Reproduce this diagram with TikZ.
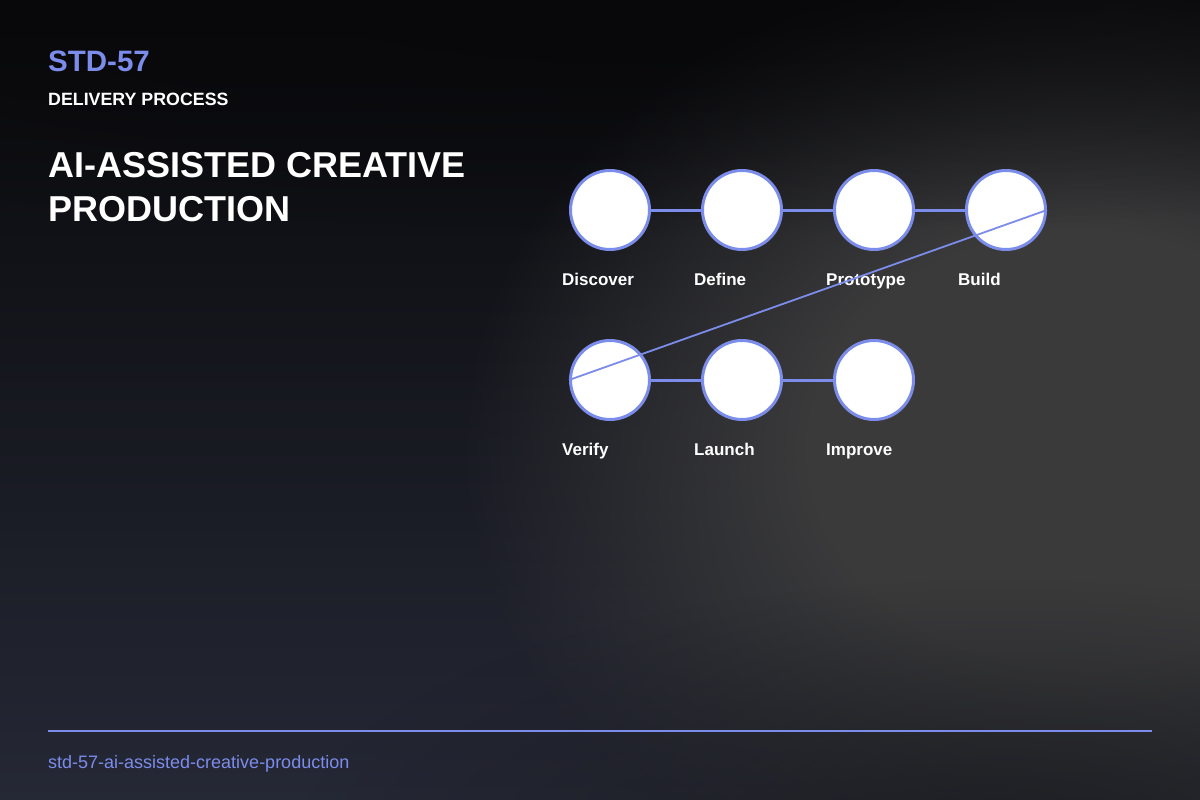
\documentclass[tikz,border=0pt]{standalone}
\usepackage{fontspec}
\setmainfont{Liberation Sans}
\usetikzlibrary{fadings}
\definecolor{accent}{HTML}{7C8CEB}
\definecolor{bgtop}{HTML}{08080A}
\definecolor{bgmid}{HTML}{15161C}
\definecolor{bgbot}{HTML}{252835}
\definecolor{blobgrey}{HTML}{3A3A3B}
\definecolor{cornerdark}{HTML}{18191D}
\tikzfading[name=blobfade, inner color=transparent!0, outer color=transparent!100]
\pgfdeclareradialshading{plateaushade}{\pgfpoint{0bp}{0bp}}{color(0bp)=(pgftransparent!0); color(11bp)=(pgftransparent!0); color(25bp)=(pgftransparent!100); color(50bp)=(pgftransparent!100)}
\pgfdeclarefading{plateaufade}{\pgfuseshading{plateaushade}}
\tikzset{
  stepnode/.style={circle, draw=accent, line width=3pt, fill=white, inner sep=0pt, minimum size=79pt},
  steplabel/.style={anchor=base west, inner sep=0pt, text=white, font=\fontsize{17}{20}\selectfont\bfseries},
  link/.style={draw=accent, line width=3pt},
  jump/.style={draw=accent, line width=1.8pt},
}
\begin{document}
\begin{tikzpicture}[x=1pt,y=-1pt]
\useasboundingbox (0,0) rectangle (1200,800);
% background
\shade[top color=bgtop, middle color=bgmid, bottom color=bgbot] (0,0) rectangle (1200,800);
\begin{scope}
\clip (0,0) rectangle (1200,800);
\fill[blobgrey, path fading=plateaufade] (1080,450) ellipse (620 and 500);
\fill[cornerdark, path fading=blobfade, fill opacity=0.8] (1000,840) ellipse (700 and 260);
\fill[bgtop, path fading=blobfade, fill opacity=0.7] (700,0) ellipse (1400 and 230);
\end{scope}
% header
\node[anchor=base west, inner sep=0pt, text=accent, font=\fontsize{29.5}{34}\selectfont\bfseries] (code) at (48,72) {STD-57};
\node[anchor=base west, inner sep=0pt, text=white, font=\fontsize{17.8}{20}\selectfont\bfseries] (kind) at (48,105) {DELIVERY PROCESS};
\node[anchor=base west, inner sep=0pt, text=white, font=\fontsize{36}{44}\selectfont\bfseries] (title1) at (48,177) {AI-ASSISTED CREATIVE};
\node[anchor=base west, inner sep=0pt, text=white, font=\fontsize{36}{44}\selectfont\bfseries] (title2) at (48,221) {PRODUCTION};
% steps
\node[stepnode] (s1) at (610,210) {};
\node[stepnode] (s2) at (742,210) {};
\node[stepnode] (s3) at (874,210) {};
\node[stepnode] (s4) at (1006,210) {};
\node[stepnode] (s5) at (610,380) {};
\node[stepnode] (s6) at (742,380) {};
\node[stepnode] (s7) at (874,380) {};
\draw[link] (s1) -- (s2);
\draw[link] (s2) -- (s3);
\draw[link] (s3) -- (s4);
\draw[link] (s5) -- (s6);
\draw[link] (s6) -- (s7);
\node[steplabel] (l1) at (562,285) {Discover};
\node[steplabel] (l2) at (694,285) {Define};
\node[steplabel] (l3) at (826,285) {Prototype};
\node[steplabel] (l4) at (958,285) {Build};
\node[steplabel] (l5) at (562,455) {Verify};
\node[steplabel] (l6) at (694,455) {Launch};
\node[steplabel] (l7) at (826,455) {Improve};
\draw[jump] (s4.east) -- (s5.west);
% footer
\coordinate (fl) at (48,731);
\coordinate (fr) at (1152,731);
\draw[accent, line width=2pt] (fl) -- (fr);
\node[anchor=base west, inner sep=0pt, text=accent, font=\fontsize{18}{22}\selectfont] (slug) at (48,768) {std-57-ai-assisted-creative-production};
\end{tikzpicture}
\end{document}
